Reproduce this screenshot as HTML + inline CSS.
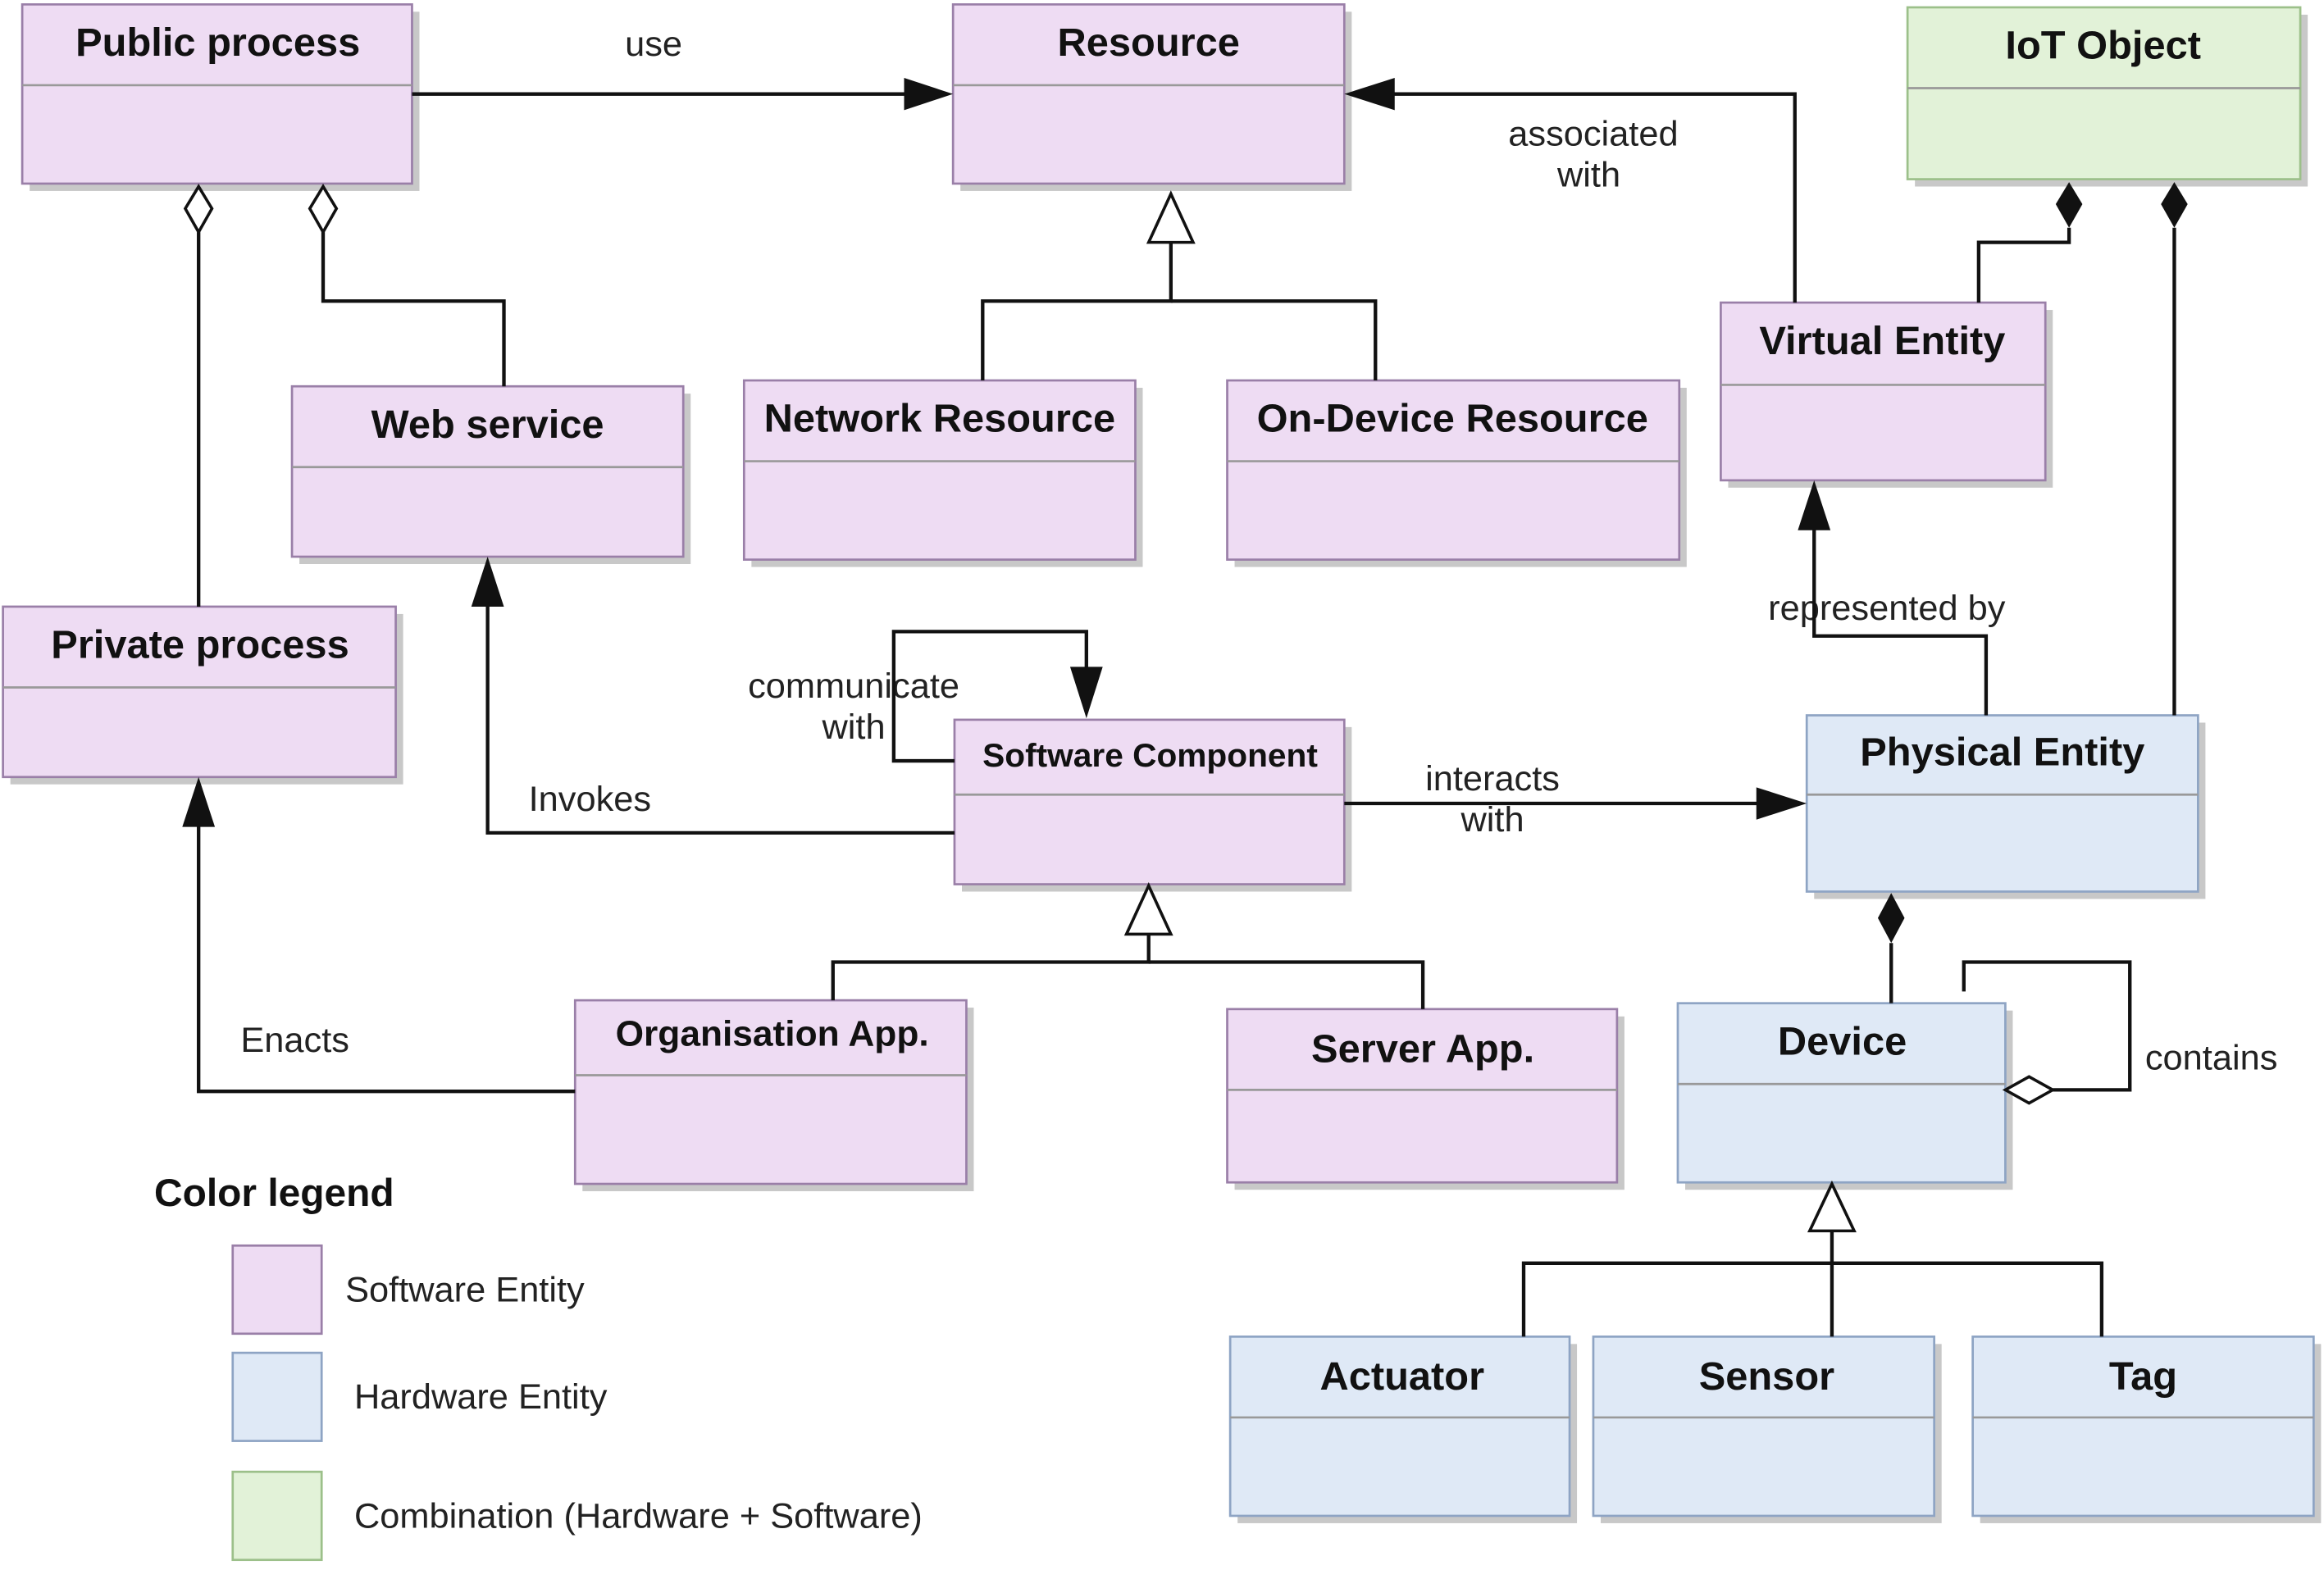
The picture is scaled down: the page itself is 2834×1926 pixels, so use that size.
<!DOCTYPE html>
<html><head><style>
html,body{margin:0;padding:0;background:#fff;}
svg{display:block}
text{font-family:"Liberation Sans",Arial,sans-serif;}
.t{font-weight:bold;font-size:27px;fill:#111;text-anchor:middle}
.l{font-size:24px;fill:#222;text-anchor:middle}
.ln{stroke:#111;stroke-width:2.4;fill:none}
</style></head><body>
<svg width="2834" height="1926" viewBox="0 0 1568 1075" preserveAspectRatio="none" xmlns="http://www.w3.org/2000/svg">
<g id="boxes">
<g fill="#c8c8c8">
<rect x="20" y="8" width="263" height="122"/>
<rect x="648" y="8" width="264" height="122"/>
<rect x="1292" y="10" width="265" height="117"/>
<rect x="1166" y="211" width="219" height="121"/>
<rect x="202" y="268" width="264" height="116"/>
<rect x="507" y="264" width="264" height="122"/>
<rect x="833" y="264" width="305" height="122"/>
<rect x="7" y="418" width="265" height="116"/>
<rect x="649" y="495" width="263" height="112"/>
<rect x="1224" y="492" width="264" height="120"/>
<rect x="393" y="686" width="264" height="125"/>
<rect x="833" y="692" width="263" height="118"/>
<rect x="1137" y="688" width="221" height="122"/>
<rect x="835" y="915" width="229" height="122"/>
<rect x="1080" y="915" width="230" height="122"/>
<rect x="1336" y="915" width="230" height="122"/>
</g>
<g fill="#eedcf3" stroke="#9a7fa8" stroke-width="1.5">
<rect x="15" y="3" width="263" height="122"/>
<rect x="643" y="3" width="264" height="122"/>
<rect x="1161" y="206" width="219" height="121"/>
<rect x="197" y="263" width="264" height="116"/>
<rect x="502" y="259" width="264" height="122"/>
<rect x="828" y="259" width="305" height="122"/>
<rect x="2" y="413" width="265" height="116"/>
<rect x="644" y="490" width="263" height="112"/>
<rect x="388" y="681" width="264" height="125"/>
<rect x="828" y="687" width="263" height="118"/>
<rect x="157" y="848" width="60" height="60"/>
</g>
<g fill="#dfe9f6" stroke="#8ea4c4" stroke-width="1.5">
<rect x="1219" y="487" width="264" height="120"/>
<rect x="1132" y="683" width="221" height="122"/>
<rect x="830" y="910" width="229" height="122"/>
<rect x="1075" y="910" width="230" height="122"/>
<rect x="1331" y="910" width="230" height="122"/>
<rect x="157" y="921" width="60" height="60"/>
</g>
<g fill="#e2f2d8" stroke="#9cc08a" stroke-width="1.5">
<rect x="1287" y="5" width="265" height="117"/>
<rect x="157" y="1002" width="60" height="60"/>
</g>
<g stroke="#999" stroke-width="1.5">
<line x1="15" y1="58" x2="278" y2="58"/>
<line x1="643" y1="58" x2="907" y2="58"/>
<line x1="1287" y1="60" x2="1552" y2="60"/>
<line x1="1161" y1="262" x2="1380" y2="262"/>
<line x1="197" y1="318" x2="461" y2="318"/>
<line x1="502" y1="314" x2="766" y2="314"/>
<line x1="828" y1="314" x2="1133" y2="314"/>
<line x1="2" y1="468" x2="267" y2="468"/>
<line x1="644" y1="541" x2="907" y2="541"/>
<line x1="1219" y1="541" x2="1483" y2="541"/>
<line x1="388" y1="732" x2="652" y2="732"/>
<line x1="828" y1="742" x2="1091" y2="742"/>
<line x1="1132" y1="738" x2="1353" y2="738"/>
<line x1="830" y1="965" x2="1059" y2="965"/>
<line x1="1075" y1="965" x2="1305" y2="965"/>
<line x1="1331" y1="965" x2="1561" y2="965"/>
</g>
</g>
<g>
<text class="t" x="147" y="38">Public process</text>
<text class="t" x="775" y="38">Resource</text>
<text class="t" x="1419" y="40">IoT Object</text>
<text class="t" x="1270" y="241">Virtual Entity</text>
<text class="t" x="329" y="298">Web service</text>
<text class="t" x="634" y="294">Network Resource</text>
<text class="t" x="980" y="294">On-Device Resource</text>
<text class="t" x="135" y="448">Private process</text>
<text class="t" x="776" y="522" style="font-size:22.5px">Software Component</text>
<text class="t" x="1351" y="521">Physical Entity</text>
<text class="t" x="521" y="712" style="font-size:24.5px">Organisation App.</text>
<text class="t" x="960" y="723">Server App.</text>
<text class="t" x="1243" y="718">Device</text>
<text class="t" x="946" y="946">Actuator</text>
<text class="t" x="1192" y="946">Sensor</text>
<text class="t" x="1446" y="946">Tag</text>
<text class="t" x="185" y="821" style="font-size:26.5px">Color legend</text>
<text class="l" x="233" y="886" style="text-anchor:start">Software Entity</text>
<text class="l" x="239" y="959" style="text-anchor:start">Hardware Entity</text>
<text class="l" x="239" y="1040" style="text-anchor:start">Combination (Hardware + Software)</text>
<text class="l" x="441" y="38">use</text>
<text class="l" x="1075" y="99">associated</text>
<text class="l" x="1072" y="127">with</text>
<text class="l" x="1273" y="422">represented by</text>
<text class="l" x="576" y="475">communicate</text>
<text class="l" x="576" y="503">with</text>
<text class="l" x="398" y="552">Invokes</text>
<text class="l" x="1007" y="538">interacts</text>
<text class="l" x="1007" y="566">with</text>
<text class="l" x="199" y="716">Enacts</text>
<text class="l" x="1492" y="728">contains</text>
</g>
<g class="ln">
<polyline points="278,64 612,64"/>
<polyline points="1211,206 1211,64 940,64"/>
<polyline points="790,165 790,205 663,205 663,259"/>
<polyline points="790,205 928,205 928,259"/>
<polyline points="134,158 134,413"/>
<polyline points="218,158 218,205 340,205 340,263"/>
<polyline points="1396,155 1396,165 1335,165 1335,206"/>
<polyline points="1467,155 1467,487"/>
<polyline points="1340,487 1340,433 1224,433 1224,360"/>
<polyline points="644,567 329,567 329,412"/>
<polyline points="644,518 603,518 603,430 733,430 733,455"/>
<polyline points="907,547 1186,547"/>
<polyline points="388,743 134,743 134,562"/>
<polyline points="775,636 775,655 562,655 562,681"/>
<polyline points="775,655 960,655 960,687"/>
<polyline points="1276,642 1276,683"/>
<polyline points="1385,742 1437,742 1437,655 1325,655 1325,675"/>
<polyline points="1236,838 1236,910"/>
<polyline points="1028,910 1028,860 1418,860 1418,910"/>
</g>
<g fill="#111">
<polygon points="643,64 610,53 610,75"/>
<polygon points="907,64 941,53 941,75"/>
<polygon points="1224,327 1213,361 1235,361"/>
<polygon points="329,379 318,413 340,413"/>
<polygon points="733,489 722,454 744,454"/>
<polygon points="1219,547 1185,536 1185,558"/>
<polygon points="134,529 123,563 145,563"/>
<polygon points="1396,124 1387,139 1396,155 1405,139"/>
<polygon points="1467,124 1458,139 1467,155 1476,139"/>
<polygon points="1276,608 1267,625 1276,642 1285,625"/>
</g>
<g fill="#fff" stroke="#111" stroke-width="2">
<polygon points="134,127 125,142 134,158 143,142"/>
<polygon points="218,127 209,142 218,158 227,142"/>
<polygon points="1353,742 1369,733 1385,742 1369,751"/>
<polygon points="790,132 775,165 805,165"/>
<polygon points="775,603 760,636 790,636"/>
<polygon points="1236,806 1221,838 1251,838"/>
</g>
</svg>
</body></html>
